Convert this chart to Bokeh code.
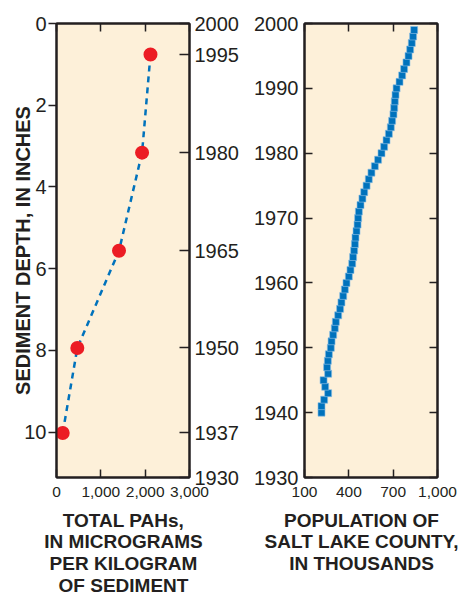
from bokeh.plotting import figure
from bokeh.models import LinearAxis, FixedTicker, NumeralTickFormatter, Range1d
from bokeh.core.properties import value
from bokeh.layouts import row, column
from bokeh.embed import file_html
from bokeh.resources import INLINE

# ---------------- data ----------------
# Sediment core samples (left panel)
sample_depth_in = [0.76, 3.16, 5.56, 7.94, 10.02]
sample_year = [1995, 1980, 1965, 1950, 1937]
total_pahs = [2120, 1930, 1410, 470, 140]

depth_top = 0
depth_bottom = 11.11
year_top = 2000
year_bottom = 1930
depth_ticks = [0, 2, 4, 6, 8, 10]
pah_ticks = [0, 1000, 2000, 3000]

# Salt Lake County population (right panel), thousands
pop_year = [1940, 1941, 1942, 1943, 1944, 1945, 1946, 1947, 1948, 1949,
            1950, 1951, 1952, 1953, 1954, 1955, 1956, 1957, 1958, 1959,
            1960, 1961, 1962, 1963, 1964, 1965, 1966, 1967, 1968, 1969,
            1970, 1971, 1972, 1973, 1974, 1975, 1976, 1977, 1978, 1979,
            1980, 1981, 1982, 1983, 1984, 1985, 1986, 1987, 1988, 1989,
            1990, 1991, 1992, 1993, 1994, 1995, 1996, 1997, 1998, 1999]
population = [215, 215, 233, 260, 240, 229, 260, 253, 258, 265,
              278, 283, 294, 305, 312, 328, 341, 350, 362, 373,
              384, 400, 411, 423, 429, 436, 441, 445, 452, 459,
              463, 468, 479, 492, 504, 520, 535, 553, 576, 598,
              621, 639, 655, 671, 684, 693, 702, 707, 711, 716,
              723, 743, 761, 774, 790, 804, 815, 826, 835, 842]
pop_ticks = [100, 400, 700, 1000]
year_ticks = [1930, 1940, 1950, 1960, 1970, 1980, 1990, 2000]

depth_title = "SEDIMENT DEPTH, IN INCHES"
left_title = ["TOTAL PAHs,", "IN MICROGRAMS", "PER KILOGRAM", "OF SEDIMENT"]
right_title = ["POPULATION OF", "SALT LAKE COUNTY,", "IN THOUSANDS"]

# ---------------- style ----------------
BG = "#fdf0d9"
INK = "#231f20"
RED = "#ec1c24"
BLUE = "#0072bc"
FONT = "Liberation Sans"
FRAME_W, FRAME_H = 133, 454
TOP_H = 23 + FRAME_H + 30
TITLE_H = 595 - TOP_H


def style_axis(ax, tick_in, tick_out, label_size, standoff, show_labels=True):
    ax.axis_line_color = INK
    ax.axis_line_width = 2
    ax.major_tick_line_color = INK
    ax.major_tick_line_width = 1.5
    ax.major_tick_in = tick_in
    ax.major_tick_out = tick_out
    ax.minor_tick_line_color = None
    ax.major_label_text_font = FONT
    ax.major_label_text_color = INK if show_labels else None
    ax.major_label_text_font_size = label_size
    ax.major_label_standoff = standoff


def new_fig(x_range, y_range, bl, br):
    p = figure(frame_width=FRAME_W, frame_height=FRAME_H,
               x_range=x_range, y_range=y_range,
               x_axis_location=None, y_axis_location=None,
               min_border_left=bl, min_border_right=br,
               min_border_top=23, min_border_bottom=30,
               output_backend="svg", toolbar_location=None)
    p.background_fill_color = BG
    p.border_fill_color = "white"
    p.outline_line_color = INK
    p.outline_line_width = 2
    p.xgrid.visible = False
    p.ygrid.visible = False
    return p


# ---------------- left panel ----------------
p1 = new_fig(Range1d(0, 3000), Range1d(depth_bottom, depth_top), 56, 51)

p1.line(total_pahs, sample_depth_in, line_color=BLUE, line_width=2.5, line_dash="6 5")
p1.scatter(total_pahs, sample_depth_in, size=14, fill_color=RED, line_color=None)

ax = LinearAxis(ticker=FixedTicker(ticks=depth_ticks), axis_label=depth_title)
style_axis(ax, 0, 8, "20px", 2)
ax.axis_label_text_font = FONT
ax.axis_label_text_font_style = "bold"
ax.axis_label_text_font_size = "20px"
ax.axis_label_text_color = INK
ax.axis_label_standoff = -13
p1.add_layout(ax, "left")

yr_pos = [depth_top] + sample_depth_in + [depth_bottom]
yr_lab = [year_top] + sample_year + [year_bottom]
ax = LinearAxis(ticker=FixedTicker(ticks=yr_pos),
                major_label_overrides={d: str(y) for d, y in zip(yr_pos, yr_lab)})
style_axis(ax, 10, 0, "20px", 5)
p1.add_layout(ax, "right")

ax = LinearAxis(ticker=FixedTicker(ticks=pah_ticks), formatter=NumeralTickFormatter(format="0,0"))
style_axis(ax, 8, 0, "15.5px", 9)
p1.add_layout(ax, "below")

ax = LinearAxis(ticker=FixedTicker(ticks=pah_ticks))
style_axis(ax, 8, 0, "1px", 0, show_labels=False)
p1.add_layout(ax, "above")

# ---------------- right panel ----------------
p2 = new_fig(Range1d(100, 1000), Range1d(1930, 2000), 63, 25)

p2.scatter(population, pop_year, marker="square", size=7,
           fill_color=BLUE, line_color="#8cc0e6", line_width=0.6)

ax = LinearAxis(ticker=FixedTicker(ticks=year_ticks))
style_axis(ax, 8, 0, "20px", 6)
p2.add_layout(ax, "left")

ax = LinearAxis(ticker=FixedTicker(ticks=year_ticks))
style_axis(ax, 8, 0, "1px", 0, show_labels=False)
p2.add_layout(ax, "right")

ax = LinearAxis(ticker=FixedTicker(ticks=pop_ticks), formatter=NumeralTickFormatter(format="0,0"))
style_axis(ax, 8, 0, "15.5px", 9)
p2.add_layout(ax, "below")

ax = LinearAxis(ticker=FixedTicker(ticks=pop_ticks))
style_axis(ax, 8, 0, "1px", 0, show_labels=False)
p2.add_layout(ax, "above")

# ---------------- x-axis titles (text strip under both panels) ----------------
p3 = figure(frame_width=461, frame_height=TITLE_H,
            x_range=Range1d(0, 461), y_range=Range1d(TITLE_H, 0),
            x_axis_location=None, y_axis_location=None,
            min_border=0, output_backend="svg", toolbar_location=None)
p3.outline_line_color = None
p3.background_fill_color = "white"
p3.xgrid.visible = False
p3.ygrid.visible = False

LINE_H = 21.7
FIRST_Y = 12.5
for lines, cx in ((left_title, 123), (right_title, 361)):
    p3.text(x=[cx] * len(lines), y=[FIRST_Y + i * LINE_H for i in range(len(lines))],
            text=lines, text_align="center", text_baseline="middle",
            text_font=value(FONT), text_font_style="bold",
            text_font_size=value("19px"), text_color=INK)

layout = column(row(p1, p2), p3)
open("out.html", "w").write(file_html(layout, INLINE))
